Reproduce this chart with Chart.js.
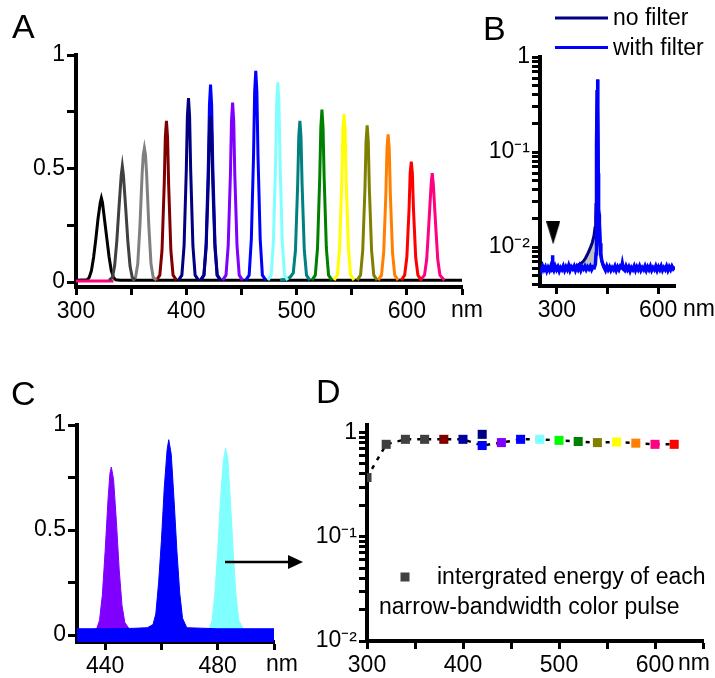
<!DOCTYPE html>
<html>
<head>
<meta charset="utf-8">
<script src="https://cdn.jsdelivr.net/npm/chart.js@4.4.1/dist/chart.umd.min.js"></script>
<style>
    body { margin: 0; background: #fff; }
    #page { position: relative; width: 715px; height: 678px; overflow: hidden; background: #fff;
            font-family: "Liberation Sans", Arial, sans-serif; color: #000; }
    canvas { position: absolute; }
    .panel { position: absolute; font-size: 34px; line-height: 34px; }
    .unit { position: absolute; font-size: 23px; line-height: 26px; }
    svg { position: absolute; left: 0; top: 0; pointer-events: none; }
</style>
</head>
<body>
<div id="page">
    <canvas id="chartA" width="480" height="330" style="left:0;top:0"></canvas>
    <canvas id="chartB" width="245" height="330" style="left:470px;top:0"></canvas>
    <canvas id="chartC" width="330" height="338" style="left:0;top:340px"></canvas>
    <canvas id="chartD" width="415" height="338" style="left:300px;top:340px"></canvas>

    <div class="panel" style="left:12px;top:9px">A</div>
    <div class="panel" style="left:483px;top:11px">B</div>
    <div class="panel" style="left:11px;top:376px">C</div>
    <div class="panel" style="left:316px;top:374px">D</div>

    <div class="unit" style="left:451px;top:296px">nm</div>
    <div class="unit" style="left:683px;top:295px">nm</div>
    <div class="unit" style="left:266px;top:650px">nm</div>
    <div class="unit" style="left:678px;top:649px">nm</div>

    <svg width="715" height="678">
        <line x1="225" y1="562" x2="290" y2="562" stroke="#000" stroke-width="2.5"/>
        <polygon points="288,555 303,562 288,569" fill="#000"/>
    </svg>
</div>

<script>
"use strict";

Chart.defaults.font.family = '"Liberation Sans", Arial, sans-serif';
Chart.defaults.font.size = 23;
Chart.defaults.color = '#000';


/** DATA */

// A - spectra of each narrow-bandwidth pulse [nm, normalised intensity]
const specA320 = [[300,0.008],[310,0.01],[312,0.02],[314,0.05],[316,0.11],[318,0.19],[320,0.28],[322,0.35],[323,0.37],[324,0.35],[326,0.27],[328,0.19],[330,0.11],[332,0.05],[334,0.02],[336,0.01],[340,0.008],[650,0.008]];
const specA342 = [[330,0.008],[333,0.02],[335,0.07],[337,0.18],[339,0.33],[341,0.47],[342,0.51],[343,0.47],[345,0.33],[347,0.18],[349,0.07],[351,0.02],[354,0.008]];
const specA362 = [[351,0.008],[354,0.02],[356,0.08],[358,0.25],[360,0.48],[361,0.56],[362,0.59],[363,0.56],[364,0.48],[366,0.25],[368,0.08],[370,0.02],[373,0.008]];
const specA382 = [[373,0.008],[376,0.03],[378,0.14],[380,0.43],[381,0.64],[382,0.71],[383,0.64],[384,0.43],[386,0.14],[388,0.03],[391,0.008]];
const specA402 = [[393,0.008],[396,0.03],[398,0.16],[400,0.49],[401,0.73],[402,0.81],[403,0.73],[404,0.49],[406,0.16],[408,0.03],[411,0.008]];
const specA422n = [[413,0.008],[416,0.03],[418,0.15],[420,0.44],[421,0.66],[422,0.73],[423,0.66],[424,0.44],[426,0.15],[428,0.03],[431,0.008]];
const specA422b = [[413,0.008],[416,0.03],[418,0.17],[420,0.52],[421,0.78],[422,0.87],[423,0.78],[424,0.52],[426,0.17],[428,0.03],[431,0.008]];
const specA442 = [[433,0.008],[436,0.03],[438,0.16],[440,0.47],[441,0.71],[442,0.79],[443,0.71],[444,0.47],[446,0.16],[448,0.03],[451,0.008]];
const specA463 = [[454,0.008],[457,0.03],[459,0.19],[461,0.56],[462,0.84],[463,0.93],[464,0.84],[465,0.56],[467,0.19],[469,0.03],[472,0.008]];
const specA483 = [[474,0.008],[477,0.03],[479,0.18],[481,0.53],[482,0.79],[483,0.88],[484,0.79],[485,0.53],[487,0.18],[489,0.03],[492,0.008]];
const specA503 = [[485,0.008],[490,0.012],[494,0.02],[497,0.04],[499,0.14],[501,0.43],[502,0.64],[503,0.71],[504,0.64],[505,0.43],[507,0.14],[509,0.03],[512,0.008]];
const specA523 = [[514,0.008],[517,0.03],[519,0.15],[521,0.46],[522,0.68],[523,0.76],[524,0.68],[525,0.46],[527,0.15],[529,0.03],[532,0.008]];
const specA543 = [[534,0.008],[537,0.03],[539,0.15],[541,0.44],[542,0.67],[543,0.74],[544,0.67],[545,0.44],[547,0.15],[549,0.03],[552,0.008]];
const specA564 = [[555,0.008],[558,0.03],[560,0.14],[562,0.41],[563,0.62],[564,0.69],[565,0.62],[566,0.41],[568,0.14],[570,0.03],[573,0.008]];
const specA583 = [[574,0.008],[577,0.03],[579,0.13],[581,0.39],[582,0.59],[583,0.65],[584,0.59],[585,0.39],[587,0.13],[589,0.03],[592,0.008]];
const specA604 = [[595,0.008],[598,0.03],[600,0.11],[602,0.32],[603,0.48],[604,0.53],[605,0.48],[606,0.32],[608,0.11],[610,0.03],[613,0.008]];
const specA623 = [[300,0.004],[334,0.004],[336,null],[612,0.008],[616,0.03],[618,0.1],[620,0.26],[622,0.43],[623,0.48],[624,0.43],[626,0.26],[628,0.1],[630,0.03],[634,0.008]];

const aSpectra = [specA320, specA342, specA362, specA382, specA402, specA422n, specA422b, specA442, specA463,
                  specA483, specA503, specA523, specA543, specA564, specA583, specA604, specA623];
const aColors = ['#000000', '#404040', '#808080', '#800000', '#000080', '#000080', '#0000ff', '#8000ff', '#0000ff',
                 '#80ffff', '#008080', '#008000', '#ffff00', '#808000', '#ff8000', '#ff0000', '#ff0080'];
const aXTicks = [300, 350, 400, 450, 500, 550, 600, 650];
const aXLabels = [300, 400, 500, 600];
const aYTicks = [0, 0.25, 0.5, 0.75, 1];
const aYLabels = [0, 0.5, 1];

// B - spectrum with / without filter [nm, intensity]
const bWithFilter = [[250,0.0060],[254,0.0056],[258,0.0063],[262,0.0058],[266,0.0062],[270,0.0056],[274,0.0061],[278,0.0057],[282,0.0063],[285,0.0059],[286,0.0060],[287,0.0082],[288,0.0061],[291,0.0057],[295,0.0063],[299,0.0058],[303,0.0062],[307,0.0056],[311,0.0061],[315,0.0058],[319,0.0063],[323,0.0057],[327,0.0062],[331,0.0058],[335,0.0064],[339,0.0057],[343,0.0062],[347,0.0059],[351,0.0063],[355,0.0057],[359,0.0062],[363,0.0058],[367,0.0063],[371,0.0057],[375,0.0062],[379,0.0059],[383,0.0063],[387,0.0058],[391,0.0062],[395,0.0059],[399,0.0063],[403,0.0058],[407,0.0062],[411,0.0061],[414,0.0066],[416,0.0085],[417,0.02],[418,0.12],[419.5,0.45],[420.5,0.58],[421.5,0.30],[422.5,0.06],[423.5,0.025],[425,0.022],[426,0.018],[428,0.011],[430,0.0085],[433,0.0072],[437,0.0065],[440,0.0061],[444,0.0057],[448,0.0063],[452,0.0058],[456,0.0062],[460,0.0057],[464,0.0061],[468,0.0058],[472,0.0063],[476,0.0057],[480,0.0062],[484,0.0058],[488,0.0063],[492,0.0061],[494,0.0067],[497,0.0059],[501,0.0057],[505,0.0063],[509,0.0058],[513,0.0062],[517,0.0056],[521,0.0061],[525,0.0058],[529,0.0063],[533,0.0057],[537,0.0062],[541,0.0058],[545,0.0063],[549,0.0057],[553,0.0061],[557,0.0058],[561,0.0063],[565,0.0057],[569,0.0062],[573,0.0058],[577,0.0063],[581,0.0057],[585,0.0061],[589,0.0058],[593,0.0063],[597,0.0057],[601,0.0062],[605,0.0058],[609,0.0063],[613,0.0057],[617,0.0061],[621,0.0058],[625,0.0063],[629,0.0057],[633,0.0062],[637,0.0058],[641,0.0063],[645,0.0059],[650,0.0062]];
const bNoFilter = [[330,0.0060],[340,0.0061],[350,0.0062],[360,0.0064],[370,0.0067],[375,0.0069],[380,0.0072],[385,0.0077],[390,0.0083],[395,0.0091],[400,0.0100],[405,0.0112],[410,0.0132],[413,0.0160],[415,0.020],[416,0.028],[417,0.045],[418,0.12],[419.5,0.45],[420.5,0.58],[421.5,0.30],[422.5,0.06],[423.5,0.025],[425,0.022],[426,0.018],[428,0.011],[430,0.0085],[433,0.0072],[437,0.0065],[440,0.0061]];
const bMarker = [[289, 0.0141]];
const bXTicks = [300, 450, 600];
const bXLabels = [300, 600];
const bYTicks = [0.004,0.005,0.006,0.007,0.008,0.009,0.01,0.02,0.03,0.04,0.05,0.06,0.07,0.08,0.09,0.1,0.2,0.3,0.4,0.5,0.6,0.7,0.8,0.9,1];
const bYLabelValues = [0.01, 0.1, 1];
const bYLabels = ['10⁻²', '10⁻¹', '1'];

// C - three selected pulses, filled [nm, intensity]
const specC442 = [[431,0.02],[435,0.025],[437,0.03],[438,0.07],[439,0.19],[440,0.4],[441,0.64],[441.7,0.77],[442.2,0.8],[443,0.74],[444,0.54],[445,0.31],[446,0.14],[447,0.06],[448.5,0.03]];
const specC462 = [[430,0.03],[440,0.03],[450,0.032],[455,0.035],[457,0.05],[458,0.1],[459,0.25],[460,0.45],[461,0.7],[462,0.88],[462.6,0.93],[463.5,0.86],[464.5,0.64],[465.5,0.4],[466.5,0.2],[467.5,0.08],[469,0.035],[480,0.03],[500,0.03]];
const specC483 = [[477,0.03],[478,0.07],[479,0.2],[480,0.4],[481,0.65],[482,0.83],[482.8,0.89],[483.6,0.84],[484.5,0.64],[485.5,0.4],[486.5,0.19],[487.5,0.07],[489,0.03]];
const cColors = ['#8000ff', '#0000ff', '#80ffff'];
const cXTicks = [440, 460, 480, 500];
const cXLabels = [440, 480];
const cYTicks = [0, 0.25, 0.5, 0.75, 1];
const cYLabels = [0, 0.5, 1];

// D - integrated energy of each pulse
const dWavelength = [300, 320, 340, 360, 380, 400, 420, 420, 440, 460, 480, 500, 520, 540, 560, 580, 600, 620];
const dEnergy = [0.37, 0.77, 0.86, 0.86, 0.86, 0.86, 0.96, 0.75, 0.80, 0.86, 0.86, 0.84, 0.82, 0.80, 0.81, 0.79, 0.77, 0.77];
const dColors = ['#404040', '#404040', '#404040', '#404040', '#800000', '#0000a0', '#000080', '#0000ff', '#8000ff',
                 '#0000ff', '#80ffff', '#00ff00', '#008000', '#808000', '#ffff00', '#ff8000', '#ff0080', '#ff0000'];
const dOffTrend = [6];
const dXTicks = [300, 350, 400, 450, 500, 550, 600, 650];
const dXLabels = [300, 400, 500, 600];
const dYTicks = [0.01,0.02,0.03,0.04,0.05,0.06,0.07,0.08,0.09,0.1,0.2,0.3,0.4,0.5,0.6,0.7,0.8,0.9,1];
const dYLabelValues = [0.01, 0.1, 1];
const dYLabels = ['10⁻²', '10⁻¹', '1'];
const dLegendLines = ['intergrated energy of each', 'narrow-bandwidth color pulse'];


/** HELPERS */

const toPoints = pairs => pairs.map(p => ({ x: p[0], y: p[1] }));

const sameValue = (a, b) => Math.abs(a - b) < 1e-9 * Math.max(1, Math.abs(b));

// Origin-like axis: thick line, outward ticks, labels only on chosen values
const makeAxis = ({ type = 'linear', position, min, max, tickValues, labelValues, labels, size, tickLength = 9, padding = 3 }) => ({
    type,
    position,
    min,
    max,
    border: { display: true, width: 4, color: '#000' },
    grid: { display: true, drawOnChartArea: false, drawTicks: true, tickLength, tickWidth: 3, tickColor: '#000' },
    ticks: {
        color: '#000',
        autoSkip: false,
        maxRotation: 0,
        minRotation: 0,
        padding,
        font: { size: 23 },
        callback: value => {
            const i = labelValues.findIndex(v => sameValue(value, v));
            return i < 0 ? '' : String(labels ? labels[i] : labelValues[i]);
        }
    },
    afterBuildTicks: scale => { scale.ticks = tickValues.map(v => ({ value: v })); },
    afterFit: scale => {
        if (position === 'left') scale.width = size;
        else scale.height = size;
    }
});

const baseOptions = (padding, scales, plugins = {}) => ({
    responsive: false,
    animation: false,
    layout: { padding },
    scales,
    plugins: Object.assign({ legend: { display: false }, tooltip: { enabled: false } }, plugins),
    elements: { point: { radius: 0 }, line: { tension: 0 } }
});


/** A - SPECTRA */

const chartA = new Chart(document.getElementById('chartA').getContext('2d'), {
    type: 'line',
    data: {
        datasets: aSpectra.map((spec, i) => ({
            data: toPoints(spec),
            borderColor: aColors[i],
            borderWidth: 3,
            pointRadius: 0,
            spanGaps: false,
            order: i === 0 ? 100 : (i === 5 ? 0 : i)
        }))
    },
    options: baseOptions({ left: 6, top: 55, right: 18, bottom: 3 }, {
        x: makeAxis({ position: 'bottom', min: 300, max: 650, tickValues: aXTicks, labelValues: aXLabels, size: 40, tickLength: 8 }),
        y: makeAxis({ position: 'left', min: -0.022, max: 1, tickValues: aYTicks, labelValues: aYLabels, size: 70, padding: 2 })
    })
});


/** B - FILTER COMPARISON (log) */

// Draw the small legend above the plot
const legendB = {
    id: 'legendB',
    afterDraw: chart => {
        const ctx = chart.ctx;
        const items = chart.data.datasets.filter(d => d.label);
        ctx.save();
        ctx.font = '23px "Liberation Sans", Arial, sans-serif';
        ctx.textBaseline = 'middle';
        items.forEach((d, i) => {
            const y = 18 + i * 29.5;
            ctx.strokeStyle = d.borderColor;
            ctx.lineWidth = 3;
            ctx.beginPath();
            ctx.moveTo(85, y);
            ctx.lineTo(138, y);
            ctx.stroke();
            ctx.fillStyle = '#000';
            ctx.fillText(d.label, 143, y + 1);
        });
        ctx.restore();
    }
};

// Downward arrowhead marking the small line at ~290 nm
const arrowHead = document.createElement('canvas');
arrowHead.width = 14;
arrowHead.height = 23;
const arrowCtx = arrowHead.getContext('2d');
arrowCtx.fillStyle = '#000';
arrowCtx.beginPath();
arrowCtx.moveTo(0, 0);
arrowCtx.lineTo(14, 0);
arrowCtx.lineTo(7, 23);
arrowCtx.closePath();
arrowCtx.fill();

const chartB = new Chart(document.getElementById('chartB').getContext('2d'), {
    type: 'line',
    data: {
        datasets: [{
            label: 'no filter',
            data: toPoints(bNoFilter),
            borderColor: '#000080',
            borderWidth: 3,
            fill: { target: 1, above: '#c0c0c0', below: 'rgba(0,0,0,0)' },
            order: 2
        }, {
            label: 'with filter',
            data: toPoints(bWithFilter),
            borderColor: '#0000ff',
            borderWidth: 3.5,
            order: 1
        }, {
            data: toPoints(bMarker),
            showLine: false,
            pointStyle: arrowHead,
            pointRadius: 10,
            order: 0
        }]
    },
    options: baseOptions({ left: 4, top: 57, right: 40, bottom: 4 }, {
        x: makeAxis({ position: 'bottom', min: 250, max: 650, tickValues: bXTicks, labelValues: bXLabels, size: 40, tickLength: 8 }),
        y: makeAxis({ type: 'logarithmic', position: 'left', min: 0.0039, max: 1, tickValues: bYTicks,
                      labelValues: bYLabelValues, labels: bYLabels, size: 66, tickLength: 8, padding: 2 })
    }),
    plugins: [legendB]
});


/** C - THREE PULSES */

const chartC = new Chart(document.getElementById('chartC').getContext('2d'), {
    type: 'line',
    data: {
        datasets: [specC442, specC462, specC483].map((spec, i) => ({
            data: toPoints(spec),
            borderColor: cColors[i],
            backgroundColor: cColors[i],
            borderWidth: 1,
            fill: 'start',
            order: i === 1 ? 0 : i + 1
        }))
    },
    options: baseOptions({ left: 7, top: 85, right: 56, bottom: 2 }, {
        x: makeAxis({ position: 'bottom', min: 430, max: 500, tickValues: cXTicks, labelValues: cXLabels, size: 34, tickLength: 8 }),
        y: makeAxis({ position: 'left', min: -0.033, max: 1, tickValues: cYTicks, labelValues: cYLabels, size: 70, padding: 2 })
    })
});


/** D - INTEGRATED ENERGY */

const legendD = {
    id: 'legendD',
    afterDraw: chart => {
        const ctx = chart.ctx;
        ctx.save();
        ctx.fillStyle = '#404040';
        ctx.fillRect(100.5, 232.5, 9, 9);
        ctx.fillStyle = '#000';
        ctx.font = '23px "Liberation Sans", Arial, sans-serif';
        ctx.textBaseline = 'middle';
        ctx.fillText(dLegendLines[0], 137, 238);
        ctx.fillText(dLegendLines[1], 79, 268);
        ctx.restore();
    }
};

const dTrend = dWavelength
    .map((x, i) => ({ x, y: dEnergy[i] }))
    .filter((p, i) => !dOffTrend.includes(i));

const chartD = new Chart(document.getElementById('chartD').getContext('2d'), {
    type: 'line',
    data: {
        datasets: [{
            data: dWavelength.map((x, i) => ({ x, y: dEnergy[i] })),
            showLine: false,
            pointStyle: 'rect',
            pointRadius: 6.4,
            pointBorderWidth: 0,
            pointBackgroundColor: dColors,
            pointBorderColor: dColors,
            order: 0
        }, {
            data: dTrend,
            borderColor: '#000',
            borderWidth: 2.5,
            borderDash: [4, 6],
            pointRadius: 0,
            order: 1
        }]
    },
    options: baseOptions({ left: 3, top: 85, right: 12, bottom: 3 }, {
        x: makeAxis({ position: 'bottom', min: 300, max: 650, tickValues: dXTicks, labelValues: dXLabels, size: 34, tickLength: 8 }),
        y: makeAxis({ type: 'logarithmic', position: 'left', min: 0.01, max: 1.18, tickValues: dYTicks,
                      labelValues: dYLabelValues, labels: dYLabels, size: 64, tickLength: 8, padding: 2 })
    }),
    plugins: [legendD]
});
</script>
</body>
</html>
